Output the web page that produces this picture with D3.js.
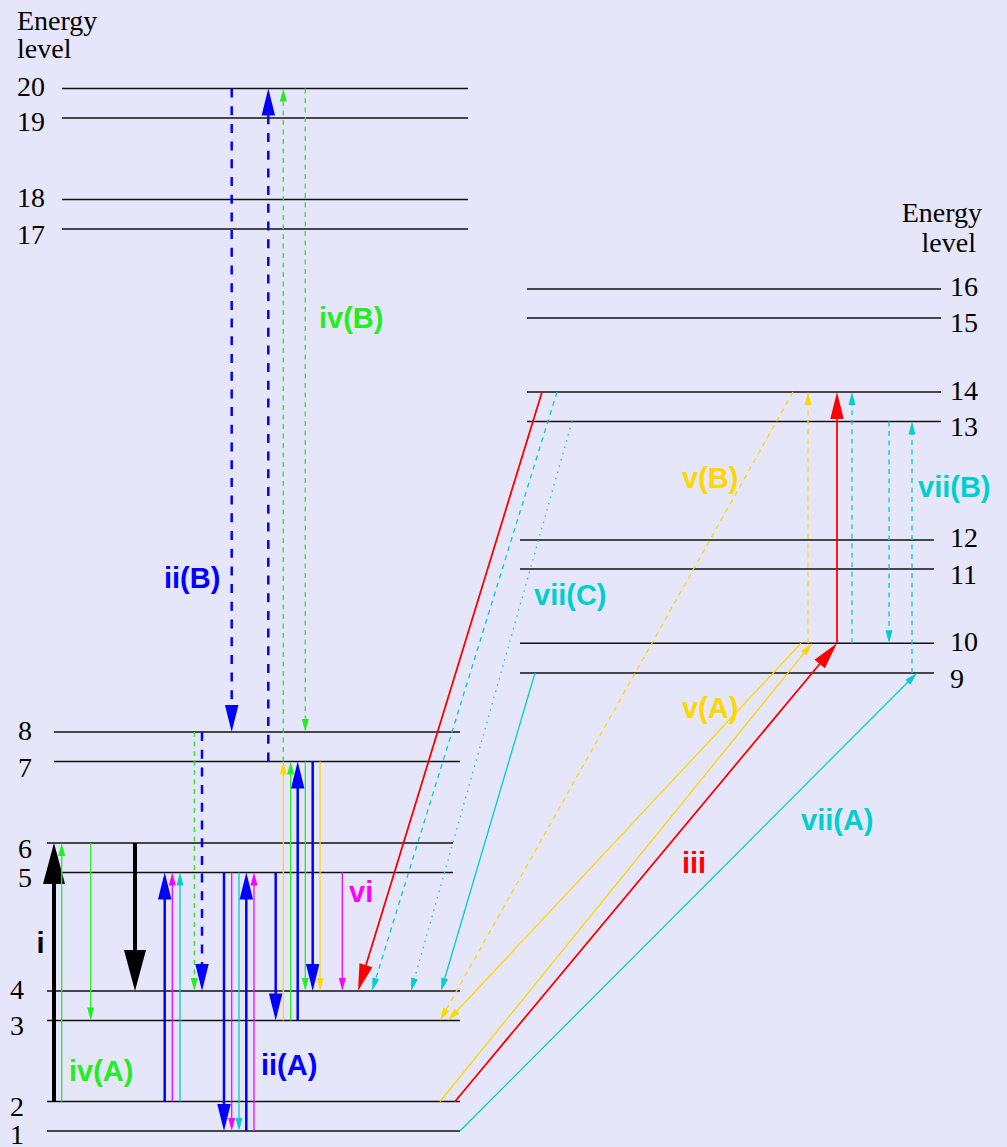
<!DOCTYPE html>
<html>
<head>
<meta charset="utf-8">
<script src="https://cdn.jsdelivr.net/npm/d3@7"></script>
<style>
  body { margin: 0; background: #e6e6fa; }
  svg { display: block; }
</style>
</head>
<body>
<div id="canvas"></div>
<script>
// Canvas size.
const WIDTH = 1007;
const HEIGHT = 1147;

// Energy levels (ids and energies in arbitrary units).
const levelIds = [1, 2, 3, 4, 5, 6, 7, 8, 9, 10, 11, 12, 13, 14, 15, 16, 17, 18, 19, 20];
const levelEnergy = [0, 1.18, 4.42, 5.60, 10.34, 11.52, 14.78, 15.96, 18.32, 19.51,
                     22.48, 23.64, 28.38, 29.56, 32.52, 33.68, 36.08, 37.26, 40.52, 41.70];

// Transitions: start level, end level, process.
const transFrom = [2, 6, 2, 6, 2, 5, 1, 5, 3, 7, 2, 5, 1, 5, 2, 5, 1, 9, 8, 7,
                   20, 3, 7, 8, 20, 7, 3, 7, 2, 10, 10, 14, 2, 10, 14, 10, 13, 9, 14, 13];
const transTo   = [6, 4, 6, 3, 5, 1, 5, 3, 7, 4, 5, 1, 5, 4, 5, 1, 9, 4, 4, 20,
                   8, 7, 4, 4, 8, 20, 7, 4, 10, 3, 14, 3, 10, 14, 4, 14, 10, 13, 4, 4];
const transProc = ["i", "i", "iv(A)", "iv(A)",
                   "ii(A)", "ii(A)", "ii(A)", "ii(A)", "ii(A)", "ii(A)",
                   "vi", "vi", "vi", "vi",
                   "vii(A)", "vii(A)", "vii(A)", "vii(A)",
                   "iv(B)", "iv(B)", "iv(B)", "iv(A)", "iv(A)",
                   "ii(B)", "ii(B)", "ii(B)",
                   "v(A)", "v(A)", "v(A)", "v(A)", "v(B)", "v(B)",
                   "iii", "iii", "iii",
                   "vii(B)", "vii(B)", "vii(B)", "vii(B)", "vii(C)"];

// Process labels.
const procLabels = ["i", "ii(A)", "ii(B)", "iii", "iv(A)", "iv(B)", "v(A)", "v(B)", "vi", "vii(A)", "vii(B)", "vii(C)"];

// ---- Layout (horizontal placement of the schematic) ----
// x of start / end of each transition arrow.
const arrowX = [[54, 54], [135, 135], [61.7, 61.7], [90.7, 90.7],
                [164.7, 164.7], [224, 224], [246.3, 246.3], [275.7, 275.7], [297.7, 297.7], [312.7, 312.7],
                [172.3, 172.3], [231.7, 231.7], [254, 254], [342.3, 342.3],
                [180, 180], [239, 239], [460, 917], [535, 441],
                [194.3, 194.3], [283.3, 283.3], [305.3, 305.3], [290.7, 290.7], [305.3, 305.3],
                [202, 202], [231.7, 231.7], [268.3, 268.3],
                [283.3, 283.3], [320, 320], [440, 812], [801, 448], [808, 808], [793, 440],
                [455, 837], [837, 837], [542, 358],
                [852, 852], [889, 889], [912, 912], [557, 372], [572, 411]];

// Position of each process label (x, baseline).
const labelPos = [[36.5, 953], [261, 1075], [164, 588], [682, 873], [69, 1081], [319, 328],
                  [682, 718], [682, 488], [349, 902], [801, 830], [918, 497], [534, 605]];

// Vertical nudge of each level number.
const levelLabelShift = [3, 5, 5, -2, 5, 5, 6, -2, 5, -2, 5, -3, 5, -2, 4, -3, 5, -2, 3, -2];

// Horizontal extent of each level line and where its number goes.
function levelSpan(id) {
  if (id <= 4) return [47, 460];
  if (id <= 6) return [47, 453];
  if (id <= 8) return [54, 460];
  if (id <= 12) return [520, 934];
  if (id <= 16) return [527, 941];
  return [62, 468];
}
function levelLabelX(id) {
  if (id <= 4) return 10;
  if (id <= 8) return 18;
  if (id <= 16) return 950;
  return 17;
}

// Scales.
const yScale = d3.scaleLinear()
                .domain([0, d3.max(levelEnergy)])
                .range([1131, 88.5]);

const xScale = d3.scaleLinear()
                .domain([0, WIDTH])
                .range([0, WIDTH]);

const colorScale = d3.scaleOrdinal()
                .domain(["i", "ii", "iii", "iv", "v", "vi", "vii"])
                .range(["#000000", "#0000ff", "#ff0000", "#22ee22", "#ffd700", "#ff00ff", "#00ced1"]);

const family = p => p.replace(/\(.*\)/, "");
const variant = p => (p.match(/\((.)\)/) || [null, "A"])[1];

const energyOf = id => levelEnergy[levelIds.indexOf(id)];

// Creates the SVG element.
const svg = d3.select("#canvas")
                .append("svg")
                .attr("width", WIDTH)
                .attr("height", HEIGHT)
                .style("background", "#e6e6fa");

// Level lines.
svg.append("g")
    .selectAll("line")
    .data(levelIds)
    .enter()
    .append("line")
    .attr("x1", d => xScale(levelSpan(d)[0]))
    .attr("x2", d => xScale(levelSpan(d)[1]))
    .attr("y1", d => yScale(energyOf(d)))
    .attr("y2", d => yScale(energyOf(d)))
    .attr("stroke", "#111")
    .attr("stroke-width", 1.3);

// Level numbers.
svg.append("g")
    .selectAll("text")
    .data(levelIds)
    .enter()
    .append("text")
    .attr("x", d => xScale(levelLabelX(d)))
    .attr("y", (d, i) => yScale(energyOf(d)) + levelLabelShift[i] + 9.5)
    .style("font-family", "'Liberation Serif', 'Times New Roman', serif")
    .style("font-size", "28px")
    .attr("fill", "#000")
    .text(d => d);

// Axis titles.
const serifTitle = (x, y, anchor, txt) => svg.append("text")
    .attr("x", x).attr("y", y)
    .attr("text-anchor", anchor)
    .style("font-family", "'Liberation Serif', 'Times New Roman', serif")
    .style("font-size", "28px")
    .text(txt);
serifTitle(17, 30, "start", "Energy");
serifTitle(17, 58, "start", "level");
serifTitle(982, 222, "end", "Energy");
serifTitle(976, 252, "end", "level");

// Arrow style per process.
function headSize(p) {
  const f = family(p);
  if (f === "i") return [41, 22];
  if (f === "ii" || f === "iii") return [27, 13.5];
  return [13, 7];
}
function lineWidth(p) {
  const f = family(p);
  if (f === "i") return 4;
  if (f === "ii") return 2.5;
  if (f === "iii") return 1.8;
  return 1.3;
}
function dashOf(p) {
  const v = variant(p);
  if (p === "i" || p === "iii" || p === "vi") return null;
  if (v === "B") return family(p) === "ii" ? "9,8.7" : "5,4.5";
  if (v === "C") return "1.5,5";
  return null;
}

const transitions = transFrom.map((f, i) => {
  const x0 = xScale(arrowX[i][0]), x1 = xScale(arrowX[i][1]);
  const y0 = yScale(energyOf(f)), y1 = yScale(energyOf(transTo[i]));
  const [L, W] = headSize(transProc[i]);
  const len = Math.hypot(x1 - x0, y1 - y0);
  const ux = (x1 - x0) / len, uy = (y1 - y0) / len;
  const bx = x1 - ux * L, by = y1 - uy * L;
  return { x0, y0, x1, y1, bx, by, ux, uy, L, W, proc: transProc[i] };
});

const arrows = svg.append("g")
    .selectAll("g")
    .data(transitions)
    .enter()
    .append("g");

arrows.append("line")
    .attr("x1", d => d.x0)
    .attr("y1", d => d.y0)
    .attr("x2", d => d.bx + d.ux * 1)
    .attr("y2", d => d.by + d.uy * 1)
    .attr("stroke", d => colorScale(family(d.proc)))
    .attr("stroke-width", d => lineWidth(d.proc))
    .attr("stroke-dasharray", d => dashOf(d.proc));

arrows.append("path")
    .attr("d", d => {
      const px = -d.uy * d.W / 2, py = d.ux * d.W / 2;
      return `M${d.x1},${d.y1}L${d.bx + px},${d.by + py}L${d.bx - px},${d.by - py}Z`;
    })
    .attr("fill", d => colorScale(family(d.proc)));

// Process labels.
svg.append("g")
    .selectAll("text")
    .data(procLabels)
    .enter()
    .append("text")
    .attr("x", (d, i) => xScale(labelPos[i][0]))
    .attr("y", (d, i) => labelPos[i][1])
    .style("font-family", "'Liberation Sans', Arial, sans-serif")
    .style("font-weight", "bold")
    .style("font-size", "29px")
    .attr("fill", d => colorScale(family(d)))
    .text(d => d);
</script>
</body>
</html>
